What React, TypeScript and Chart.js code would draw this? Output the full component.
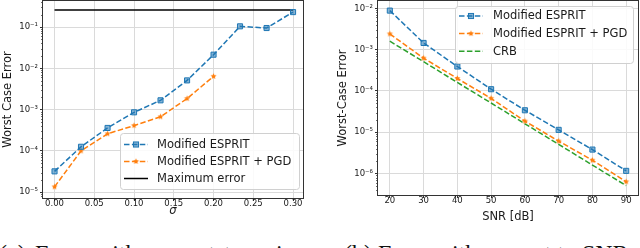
import React, { useEffect, useRef } from "react";
import { Chart, registerables } from "chart.js";

Chart.register(...registerables);

// ---------- data ----------
const sigmaValues = [0, 0.0333, 0.0667, 0.1, 0.1333, 0.1667, 0.2, 0.2333, 0.2667, 0.3];
const espritNoise = [3.2e-5, 1.26e-4, 3.6e-4, 8.6e-4, 1.68e-3, 5.1e-3, 2.14e-2, 0.104, 0.0946, 0.23];
const pgdNoise = [1.35e-5, 1.0e-4, 2.6e-4, 4.1e-4, 6.7e-4, 1.85e-3, 6.4e-3];
const maxErrorX = [0, 0.3];
const maxErrorY = [0.26, 0.26];
const sigmaTicks = [0, 0.05, 0.1, 0.15, 0.2, 0.25, 0.3];

const snrValues = [20, 30, 40, 50, 60, 70, 80, 90];
const espritSnr = [8.8e-3, 1.45e-3, 3.9e-4, 1.1e-4, 3.4e-5, 1.14e-5, 3.8e-6, 1.16e-6];
const pgdSnr = [2.4e-3, 6.2e-4, 2.0e-4, 6.6e-5, 1.85e-5, 6.1e-6, 2.1e-6, 6.3e-7];
const crbSnr = [1.6e-3, 5.1e-4, 1.6e-4, 5.1e-5, 1.6e-5, 5.1e-6, 1.6e-6, 5.1e-7];
const snrTicks = [20, 30, 40, 50, 60, 70, 80, 90];

const legendNoise = ["Modified ESPRIT", "Modified ESPRIT + PGD", "Maximum error"];
const legendSnr = ["Modified ESPRIT", "Modified ESPRIT + PGD", "CRB"];

const captionA = "(a) Error with respect to noise";
const captionB = "(b) Error with respect to SNR";

// ---------- styling ----------
const FONT = "'DejaVu Sans', sans-serif";
const BLUE = "#1f77b4";
const ORANGE = "#ff7f0e";
const GREEN = "#2ca02c";
const GRID = "#dadada";
const AXIS = "#333333";
const TEXT = "#1a1a1a";
const DASH = [5.5, 2.4];

const SUP: Record<string, string> = {
  "-": "\u207B", "0": "\u2070", "1": "\u00B9", "2": "\u00B2", "3": "\u00B3",
  "4": "\u2074", "5": "\u2075", "6": "\u2076", "7": "\u2077", "8": "\u2078", "9": "\u2079",
};
function decadeLabel(v: number) {
  const e = Math.round(Math.log10(v));
  return "10" + String(e).split("").map((c) => SUP[c] || c).join("");
}

function makeStar(color: string, r: number) {
  const c = document.createElement("canvas");
  const s = Math.ceil(r * 2 + 2);
  c.width = s;
  c.height = s;
  const g = c.getContext("2d")!;
  g.fillStyle = color;
  g.beginPath();
  for (let i = 0; i < 10; i++) {
    const a = -Math.PI / 2 + (i * Math.PI) / 5;
    const rr = i % 2 === 0 ? r : r * 0.45;
    g.lineTo(s / 2 + rr * Math.cos(a), s / 2 + rr * Math.sin(a));
  }
  g.closePath();
  g.fill();
  return c;
}

const framePlugin = {
  id: "frameAndMinor",
  afterDatasetsDraw(chart: any) {
    const { ctx, chartArea } = chart;
    const y = chart.scales.y;
    ctx.save();
    ctx.strokeStyle = AXIS;
    ctx.lineWidth = 0.7;
    const eMin = Math.floor(Math.log10(y.min));
    const eMax = Math.ceil(Math.log10(y.max));
    ctx.beginPath();
    for (let e = eMin; e <= eMax; e++) {
      for (let m = 2; m <= 9; m++) {
        const v = m * Math.pow(10, e);
        if (v < y.min || v > y.max) continue;
        const py = Math.round(y.getPixelForValue(v)) + 0.5;
        ctx.moveTo(chartArea.left - 2, py);
        ctx.lineTo(chartArea.left, py);
      }
    }
    ctx.stroke();
    ctx.lineWidth = 1;
    const l = Math.round(chartArea.left) - 0.5;
    const t = Math.round(chartArea.top) - 0.5;
    const r = Math.round(chartArea.right) + 0.5;
    const b = Math.round(chartArea.bottom) + 0.5;
    ctx.strokeRect(l, t, r - l, b - t);
    ctx.restore();
  },
};

const legendPlugin = {
  id: "insideLegend",
  afterDraw(chart: any, _args: any, opts: any) {
    const { ctx } = chart;
    ctx.save();
    const { x, y, w, h, rowTop, rowStep, lineX0, lineX1, textX } = opts;
    ctx.beginPath();
    (ctx as any).roundRect(x + 0.5, y + 0.5, w, h, 3);
    ctx.fillStyle = "rgba(255,255,255,0.85)";
    ctx.fill();
    ctx.strokeStyle = "#d0d0d0";
    ctx.lineWidth = 1;
    ctx.stroke();
    ctx.font = `11.5px ${FONT}`;
    ctx.textBaseline = "middle";
    ctx.textAlign = "left";
    chart.data.datasets.forEach((ds: any, i: number) => {
      const cy = rowTop + i * rowStep;
      ctx.save();
      ctx.strokeStyle = ds.borderColor;
      ctx.lineWidth = ds.borderWidth;
      ctx.setLineDash(ds.borderDash || []);
      ctx.beginPath();
      ctx.moveTo(lineX0, cy);
      ctx.lineTo(lineX1, cy);
      ctx.stroke();
      ctx.restore();
      const mx = (lineX0 + lineX1) / 2;
      if (ds.pointRadius > 0) {
        if (ds.pointStyle === "rect") {
          const s = ds.pointRadius * Math.SQRT1_2;
          ctx.fillStyle = ds.pointBackgroundColor;
          ctx.fillRect(mx - s, cy - s, 2 * s, 2 * s);
          ctx.strokeStyle = ds.pointBorderColor;
          ctx.lineWidth = ds.pointBorderWidth;
          ctx.strokeRect(mx - s, cy - s, 2 * s, 2 * s);
        } else if (ds.pointStyle && ds.pointStyle.width) {
          const img = ds.pointStyle;
          ctx.drawImage(img, mx - img.width / 2, cy - img.height / 2);
        }
      }
      ctx.fillStyle = TEXT;
      ctx.fillText(ds.label, textX, cy + 0.5);
    });
    ctx.restore();
  },
};

function zeroPadding(scale: any) {
  scale.paddingTop = 0;
  scale.paddingBottom = 0;
  scale.paddingLeft = 0;
  scale.paddingRight = 0;
}

function logAxis(min: number, max: number, width: number, title: string, titlePadTop: number) {
  return {
    type: "logarithmic",
    min,
    max,
    afterBuildTicks: (scale: any) => {
      const out: any[] = [];
      for (let e = Math.ceil(Math.log10(scale.min) - 1e-9); e <= Math.floor(Math.log10(scale.max) + 1e-9); e++) {
        out.push({ value: Math.pow(10, e) });
      }
      scale.ticks = out;
    },
    afterFit: (scale: any) => {
      scale.width = width;
      zeroPadding(scale);
    },
    ticks: {
      callback: (v: any) => decadeLabel(Number(v)),
      font: { family: FONT, size: 8.5 },
      color: TEXT,
      padding: 2,
      autoSkip: false,
    },
    grid: { color: GRID, lineWidth: 1, tickColor: AXIS, tickLength: 3 },
    border: { display: false },
    title: {
      display: true,
      text: title,
      font: { family: FONT, size: 11.5 },
      color: TEXT,
      padding: { top: titlePadTop, bottom: 0 },
    },
  };
}

function linAxis(
  min: number,
  max: number,
  ticks: number[],
  digits: number,
  height: number,
  title: string,
  italic: boolean,
  titlePadBottom: number
) {
  return {
    type: "linear",
    min,
    max,
    bounds: "data",
    afterBuildTicks: (scale: any) => {
      scale.ticks = ticks.map((v) => ({ value: v }));
    },
    afterFit: (scale: any) => {
      scale.height = height;
      zeroPadding(scale);
    },
    ticks: {
      callback: (v: any) => Number(v).toFixed(digits),
      font: { family: FONT, size: 8.5 },
      color: TEXT,
      padding: -2,
      autoSkip: false,
      maxRotation: 0,
    },
    grid: { color: GRID, lineWidth: 1, tickColor: AXIS, tickLength: 3 },
    border: { display: false },
    title: {
      display: true,
      text: title,
      font: { family: FONT, size: 11.5, style: italic ? "italic" : "normal" },
      color: TEXT,
      padding: { top: 0, bottom: titlePadBottom },
    },
  };
}

function series(label: string, xs: number[], ys: number[], color: string, extra: any) {
  return {
    label,
    data: ys.map((v, i) => ({ x: xs[i], y: v })),
    borderColor: color,
    backgroundColor: color,
    borderWidth: 1.5,
    tension: 0,
    fill: false,
    ...extra,
  };
}

export default function App() {
  const leftRef = useRef<HTMLCanvasElement | null>(null);
  const rightRef = useRef<HTMLCanvasElement | null>(null);

  useEffect(() => {
    const star = makeStar(ORANGE, 3.2);
    const blueMarker = {
      pointStyle: "rect",
      pointRadius: 3.6,
      pointBackgroundColor: "rgba(31,119,180,0.55)",
      pointBorderColor: BLUE,
      pointBorderWidth: 1,
      borderDash: DASH,
    };
    const orangeMarker = {
      pointStyle: star,
      pointRadius: 3,
      pointBackgroundColor: ORANGE,
      pointBorderColor: ORANGE,
      borderDash: DASH,
    };

    const left = new Chart(leftRef.current!, {
      type: "line",
      data: {
        datasets: [
          series(legendNoise[0], sigmaValues, espritNoise, BLUE, blueMarker),
          series(legendNoise[1], sigmaValues, pgdNoise, ORANGE, orangeMarker),
          series(legendNoise[2], maxErrorX, maxErrorY, "#000000", { pointRadius: 0, borderDash: [] }),
        ],
      } as any,
      options: {
        animation: false,
        responsive: false,
        devicePixelRatio: 1,
        layout: { autoPadding: false, padding: { left: 0, right: 17, top: 1, bottom: 0 } },
        scales: {
          x: linAxis(-0.0145, 0.3125, sigmaTicks, 2, 32, "\u03C3", true, 12) as any,
          y: logAxis(7.24e-6, 0.427, 43, "Worst Case Error", 1.6) as any,
        },
        plugins: {
          legend: { display: false },
          tooltip: { enabled: false },
          insideLegend: {
            x: 120, y: 133, w: 179, h: 56,
            rowTop: 144.5, rowStep: 17, lineX0: 124, lineX1: 148, textX: 157,
          },
        } as any,
      },
      plugins: [framePlugin, legendPlugin],
    } as any);

    const right = new Chart(rightRef.current!, {
      type: "line",
      data: {
        datasets: [
          series(legendSnr[0], snrValues, espritSnr, BLUE, blueMarker),
          series(legendSnr[1], snrValues, pgdSnr, ORANGE, orangeMarker),
          series(legendSnr[2], snrValues, crbSnr, GREEN, { pointRadius: 0, borderDash: DASH }),
        ],
      } as any,
      options: {
        animation: false,
        responsive: false,
        devicePixelRatio: 1,
        layout: { autoPadding: false, padding: { left: 0, right: 2, top: 1, bottom: 0 } },
        scales: {
          x: linAxis(16.5, 93.5, snrTicks, 0, 35, "SNR [dB]", false, 6) as any,
          y: logAxis(3.02e-7, 0.01503, 58, "Worst-Case Error", 16) as any,
        },
        plugins: {
          legend: { display: false },
          tooltip: { enabled: false },
          insideLegend: {
            x: 135, y: 6, w: 178, h: 57,
            rowTop: 16, rowStep: 17.6, lineX0: 139, lineX1: 163, textX: 173,
          },
        } as any,
      },
      plugins: [framePlugin, legendPlugin],
    } as any);

    return () => {
      left.destroy();
      right.destroy();
    };
  }, []);

  const captionStyle: React.CSSProperties = {
    position: "absolute",
    top: 241,
    fontFamily: "'Liberation Serif', serif",
    fontSize: 24,
    lineHeight: "24px",
    whiteSpace: "nowrap",
    color: "#111",
  };

  return (
    <div
      style={{
        position: "fixed",
        left: 0,
        top: 0,
        width: 640,
        height: 248,
        overflow: "hidden",
        background: "#ffffff",
      }}
    >
      <canvas
        ref={leftRef}
        width={320}
        height={230}
        style={{ position: "absolute", left: 0, top: 0, width: 320, height: 230, display: "block" }}
      />
      <canvas
        ref={rightRef}
        width={320}
        height={230}
        style={{ position: "absolute", left: 320, top: 0, width: 320, height: 230, display: "block" }}
      />
      <div style={{ ...captionStyle, left: -1, wordSpacing: "3.3px" }}>{captionA}</div>
      <div style={{ ...captionStyle, left: 344 }}>{captionB}</div>
    </div>
  );
}
